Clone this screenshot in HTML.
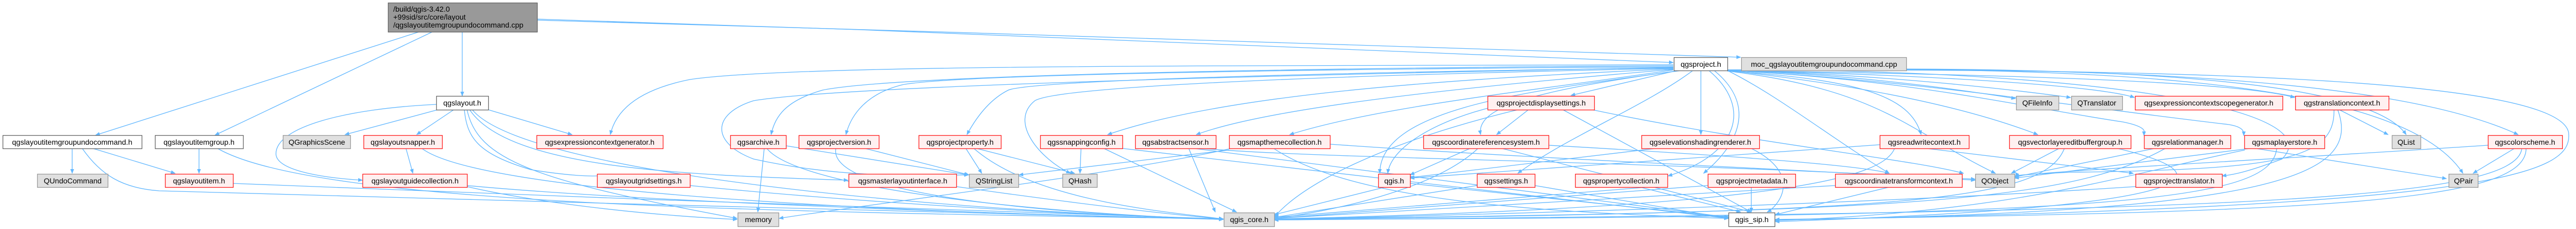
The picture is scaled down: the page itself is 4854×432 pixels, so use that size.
<!DOCTYPE html>
<html><head><meta charset="utf-8"><style>
html,body{margin:0;padding:0;background:#fff;}
svg{display:block;}
text{font-family:"Liberation Sans",sans-serif;font-size:14px;fill:#000;}
.e{fill:none;stroke:#63b8ff;stroke-width:1.3;}
</style></head><body>
<svg width="4854" height="432" viewBox="0 0 4854 432" xmlns="http://www.w3.org/2000/svg">
<defs><marker id="a" viewBox="0 0 10 10" refX="9" refY="5" markerWidth="9" markerHeight="9" orient="auto-start-reverse" markerUnits="userSpaceOnUse"><path d="M0,1 L10,5 L0,9 z" fill="#63b8ff"/></marker></defs>
<g class="e" marker-end="url(#a)">
<!-- main -->
<path d="M790,60 L180,255"/>
<path d="M815,60 L405,255"/>
<path d="M871,60 L871,181"/>
<path d="M1012,36 C1800,60 2800,100 3153,118"/>
<path d="M1012,38 C1800,60 2900,95 3280,108"/>
<!-- layout.h -->
<path d="M822,197 C650,205 520,240 520,290 C520,320 600,335 683,340"/>
<path d="M825,207 L650,254"/>
<path d="M855,207 L785,254"/>
<path d="M920,207 L1078,254"/>
<path d="M875,207 C880,260 900,290 1000,320 C1060,330 1120,335 1140,330"/>
<path d="M885,207 C960,320 1300,330 1598,340"/>
<path d="M880,207 C900,300 1000,340 1389,412"/>
<path d="M890,207 C990,330 1800,400 2305,413"/>
<!-- undo.h -->
<path d="M136,280 L136,327"/>
<path d="M175,280 L330,327"/>
<path d="M155,280 C190,330 230,355 300,360 C900,380 1900,400 2305,414"/>
<!-- group -->
<path d="M375,280 L375,327"/>
<path d="M410,280 C600,390 1500,400 2305,413"/>
<!-- snapper -->
<path d="M765,280 L778,327"/>
<path d="M795,280 C900,360 1600,400 2305,413"/>
<!-- row3 to core -->
<path d="M439,346 C1000,370 1900,400 2305,413"/>
<path d="M880,350 C1200,380 1900,405 2305,413"/>
<path d="M880,352 C1000,380 1200,405 1389,414"/>
<path d="M1300,350 C1600,380 2000,405 2305,413"/>
<path d="M1802,352 C2000,380 2200,405 2305,413"/>
<!-- exprctxgen -->
<path d="M3153,122 C2400,125 1500,120 1300,150 C1200,170 1160,210 1150,254"/>
<!-- project to left nodes -->
<path d="M3153,124 C2500,128 1700,140 1550,170 C1480,190 1460,220 1453,254"/>
<path d="M3153,126 C2500,130 1800,140 1700,160 C1620,180 1600,230 1594,254"/>
<path d="M3153,128 C2600,135 1950,150 1900,170 C1860,190 1835,230 1822,254"/>
<path d="M3153,127 C2500,140 1600,160 1420,190 C1340,215 1340,270 1420,300 C1600,340 1760,330 1825,330"/>
<path d="M3153,129 C2600,140 2000,160 1950,190 C1900,230 1960,300 2017,327"/>
<path d="M3153,130 C2700,150 2300,180 2087,254"/>
<path d="M3153,131 C2800,160 2400,200 2254,254"/>
<path d="M3153,132 C2900,170 2600,200 2430,254"/>
<path d="M3165,133 C2900,170 2780,200 2790,254"/>
<path d="M3160,133 L2960,180"/>
<path d="M3168,133 C2900,170 2600,200 2600,327"/>
<path d="M3205,133 L3205,254"/>
<path d="M3190,133 C3100,200 2950,260 2860,327"/>
<path d="M3220,133 C3300,200 3280,290 3143,332"/>
<path d="M3230,133 C3300,190 3290,260 3210,327"/>
<path d="M3255,133 C3350,180 3450,260 3560,327"/>
<path d="M3255,134 C3500,150 3600,180 3620,254"/>
<path d="M3255,134 C3550,170 3600,250 3760,327"/>
<path d="M3255,133 C3500,160 3700,200 3840,254"/>
<path d="M3255,133 C3600,150 3800,200 4000,230 C4050,240 4040,250 4040,256"/>
<path d="M3255,133 C3600,150 3900,200 4200,235 C4230,240 4228,250 4228,256"/>
<path d="M3255,133 C3500,140 3700,170 3798,186"/>
<path d="M3255,133 C3550,140 3800,170 3902,184"/>
<path d="M3255,133 C3600,140 3950,160 4022,184"/>
<path d="M3255,133 C3700,140 4200,150 4324,184"/>
<path d="M3255,132 C3800,125 4450,130 4534,254"/>
<path d="M3255,132 C3900,125 4520,140 4641,327"/>
<path d="M3255,132 C3900,125 4500,140 4745,254"/>
<path d="M3255,132 C3900,130 4400,200 4300,300 C4220,330 4200,330 4187,332"/>
<path d="M3255,132 C4000,130 4820,140 4840,250 C4850,330 4700,390 3345,415"/>
<!-- display settings -->
<path d="M2880,207 L2820,254"/>
<path d="M2808,203 C2700,230 2620,280 2615,327"/>
<path d="M2860,207 C2600,270 2450,350 2401,410"/>
<path d="M2945,207 L3300,400"/>
<path d="M3000,207 C3300,270 3600,300 3700,327"/>
<!-- crs -->
<path d="M2770,280 L2657,330"/>
<path d="M2785,280 C2700,360 2500,400 2401,412"/>
<path d="M2830,280 L3300,400"/>
<path d="M2918,274 C3200,290 3500,310 3560,327"/>
<!-- other to sip/core -->
<path d="M2240,280 L2290,400"/>
<path d="M2250,280 L3258,410"/>
<path d="M2265,280 C2500,300 3000,300 3722,338"/>
<path d="M2320,280 C2100,330 1600,390 1468,412"/>
<path d="M2400,280 C2550,380 2900,400 3257,412"/>
<path d="M2316,283 L1920,330"/>
<path d="M2506,272 C2900,300 3400,320 3722,340"/>
<path d="M2080,280 L2330,400"/>
<path d="M2115,280 L3258,412"/>
<path d="M2037,280 L2035,327"/>
<path d="M1440,280 L1428,400"/>
<path d="M1445,280 C1500,350 1900,400 2305,414"/>
<path d="M1481,275 L1825,330"/>
<path d="M1575,280 C1560,360 1900,400 2305,414"/>
<path d="M1630,280 L1826,330"/>
<path d="M1820,280 L1850,327"/>
<path d="M1840,280 L2025,327"/>
<path d="M1835,280 C1950,380 2200,400 2305,413"/>
<path d="M2657,346 L3257,410"/>
<path d="M2610,353 L2401,405"/>
<path d="M2892,350 L3257,412"/>
<path d="M2783,350 L2401,410"/>
<path d="M3142,350 L2401,410"/>
<path d="M3090,353 L3280,400"/>
<path d="M3300,353 L3300,400"/>
<path d="M3218,350 L2401,412"/>
<path d="M3560,353 L3345,405"/>
<path d="M3458,350 L2401,412"/>
<path d="M3570,280 C3550,330 3400,390 2401,413"/>
<path d="M3630,280 L4020,327"/>
<path d="M3300,280 C3400,330 3350,390 3330,400"/>
<path d="M3120,280 L2657,335"/>
<path d="M3542,273 L2657,336"/>
<path d="M3880,280 L3790,327"/>
<path d="M3890,280 C3850,380 3600,400 2401,414"/>
<path d="M3990,280 C4200,330 4180,390 3345,418"/>
<path d="M4060,280 L3796,334"/>
<path d="M4080,280 C3900,380 3600,400 2401,413"/>
<path d="M4240,280 L3796,336"/>
<path d="M4230,283 C4000,330 3800,400 3345,416"/>
<path d="M4290,280 C4280,380 4000,410 2401,414"/>
<path d="M4250,280 L4610,337"/>
<path d="M4688,274 C4300,300 3900,320 3796,332"/>
<path d="M4738,280 L4660,327"/>
<path d="M4752,280 C4740,380 4200,400 2401,415"/>
<path d="M4760,280 C4760,380 4400,400 3345,414"/>
<path d="M4408,207 L4500,254"/>
<path d="M4398,207 C4400,300 4300,320 3900,325 C3800,330 3800,330 3798,334"/>
<path d="M4405,207 C4450,330 4300,400 3345,415"/>
<path d="M4024,352 C3600,380 3000,400 2401,414"/>
</g>
<g stroke-width="1.3">
<rect x="731.5" y="5.5" width="281" height="55" fill="#999" stroke="#666"/>
<rect x="822.5" y="181.5" width="98" height="26" fill="#fff" stroke="#666"/>
<rect x="3154.5" y="108.5" width="101" height="25" fill="#fff" stroke="#666"/>
<rect x="5.5" y="255.5" width="262" height="25" fill="#fff" stroke="#666"/>
<rect x="292.5" y="255.5" width="166" height="25" fill="#fff" stroke="#666"/>
<rect x="3257.5" y="401.5" width="87" height="26" fill="#fff" stroke="#666"/>
</g>
<g stroke-width="1.3" fill="#e0e0e0" stroke="#999">
<rect x="3281.5" y="108.5" width="311" height="25"/>
<rect x="533.5" y="255.5" width="127" height="25"/>
<rect x="70.5" y="328.5" width="133" height="25"/>
<rect x="1826.5" y="328.5" width="93" height="25"/>
<rect x="2002.5" y="328.5" width="65" height="25"/>
<rect x="3722.5" y="328.5" width="74" height="25"/>
<rect x="4614.5" y="328.5" width="55" height="25"/>
<rect x="4507.5" y="255.5" width="54" height="25"/>
<rect x="3799.5" y="181.5" width="80" height="26"/>
<rect x="3903.5" y="181.5" width="96" height="26"/>
<rect x="1390.5" y="401.5" width="77" height="26"/>
<rect x="2306.5" y="401.5" width="95" height="26"/>
</g>
<g stroke-width="1.3" fill="#fff0f0" stroke="#ff2020">
<rect x="685.5" y="255.5" width="148" height="25"/>
<rect x="1011.5" y="255.5" width="238" height="25"/>
<rect x="1376.5" y="255.5" width="105" height="25"/>
<rect x="1505.5" y="255.5" width="151" height="25"/>
<rect x="1731.5" y="255.5" width="155" height="25"/>
<rect x="1960.5" y="255.5" width="155" height="25"/>
<rect x="2139.5" y="255.5" width="152" height="25"/>
<rect x="2316.5" y="255.5" width="190" height="25"/>
<rect x="2682.5" y="255.5" width="236" height="25"/>
<rect x="3093.5" y="255.5" width="222" height="25"/>
<rect x="3542.5" y="255.5" width="168" height="25"/>
<rect x="3786.5" y="255.5" width="229" height="25"/>
<rect x="4040.5" y="255.5" width="163" height="25"/>
<rect x="4229.5" y="255.5" width="151" height="25"/>
<rect x="4688.5" y="255.5" width="140" height="25"/>
<rect x="2803.5" y="181.5" width="201" height="26"/>
<rect x="4023.5" y="181.5" width="278" height="26"/>
<rect x="4325.5" y="181.5" width="176" height="26"/>
<rect x="311.5" y="328.5" width="128" height="25"/>
<rect x="683.5" y="328.5" width="197" height="25"/>
<rect x="1125.5" y="328.5" width="175" height="25"/>
<rect x="1599.5" y="328.5" width="203" height="25"/>
<rect x="2597.5" y="328.5" width="60" height="25"/>
<rect x="2783.5" y="328.5" width="109" height="25"/>
<rect x="2968.5" y="328.5" width="174" height="25"/>
<rect x="3218.5" y="328.5" width="165" height="25"/>
<rect x="3458.5" y="328.5" width="239" height="25"/>
<rect x="4024.5" y="328.5" width="163" height="25"/>
</g>
<text x="741" y="22">/build/qgis-3.42.0</text>
<text x="741" y="37">+99sid/src/core/layout</text>
<text x="741" y="52">/qgslayoutitemgroupundocommand.cpp</text>
<g text-anchor="middle">
<text x="871" y="199">qgslayout.h</text>
<text x="3205" y="126">qgsproject.h</text>
<text x="3437" y="126">moc_qgslayoutitemgroupundocommand.cpp</text>
<text x="136" y="273">qgslayoutitemgroupundocommand.h</text>
<text x="375" y="273">qgslayoutitemgroup.h</text>
<text x="597" y="273">QGraphicsScene</text>
<text x="759" y="273">qgslayoutsnapper.h</text>
<text x="1130" y="273">qgsexpressioncontextgenerator.h</text>
<text x="1429" y="273">qgsarchive.h</text>
<text x="1581" y="273">qgsprojectversion.h</text>
<text x="1809" y="273">qgsprojectproperty.h</text>
<text x="2038" y="273">qgssnappingconfig.h</text>
<text x="2215" y="273">qgsabstractsensor.h</text>
<text x="2411" y="273">qgsmapthemecollection.h</text>
<text x="2800" y="273">qgscoordinatereferencesystem.h</text>
<text x="3204" y="273">qgselevationshadingrenderer.h</text>
<text x="3626" y="273">qgsreadwritecontext.h</text>
<text x="3901" y="273">qgsvectorlayereditbuffergroup.h</text>
<text x="4122" y="273">qgsrelationmanager.h</text>
<text x="4305" y="273">qgsmaplayerstore.h</text>
<text x="4534" y="273">QList</text>
<text x="4758" y="273">qgscolorscheme.h</text>
<text x="2904" y="199">qgsprojectdisplaysettings.h</text>
<text x="3839" y="199">QFileInfo</text>
<text x="3951" y="199">QTranslator</text>
<text x="4162" y="199">qgsexpressioncontextscopegenerator.h</text>
<text x="4413" y="199">qgstranslationcontext.h</text>
<text x="137" y="346">QUndoCommand</text>
<text x="375" y="346">qgslayoutitem.h</text>
<text x="782" y="346">qgslayoutguidecollection.h</text>
<text x="1213" y="346">qgslayoutgridsettings.h</text>
<text x="1701" y="346">qgsmasterlayoutinterface.h</text>
<text x="1873" y="346">QStringList</text>
<text x="2035" y="346">QHash</text>
<text x="2627" y="346">qgis.h</text>
<text x="2838" y="346">qgssettings.h</text>
<text x="3055" y="346">qgspropertycollection.h</text>
<text x="3301" y="346">qgsprojectmetadata.h</text>
<text x="3578" y="346">qgscoordinatetransformcontext.h</text>
<text x="3759" y="346">QObject</text>
<text x="4106" y="346">qgsprojecttranslator.h</text>
<text x="4642" y="346">QPair</text>
<text x="1429" y="419">memory</text>
<text x="2354" y="419">qgis_core.h</text>
<text x="3301" y="419">qgis_sip.h</text>
</g>
</svg>
</body></html>
